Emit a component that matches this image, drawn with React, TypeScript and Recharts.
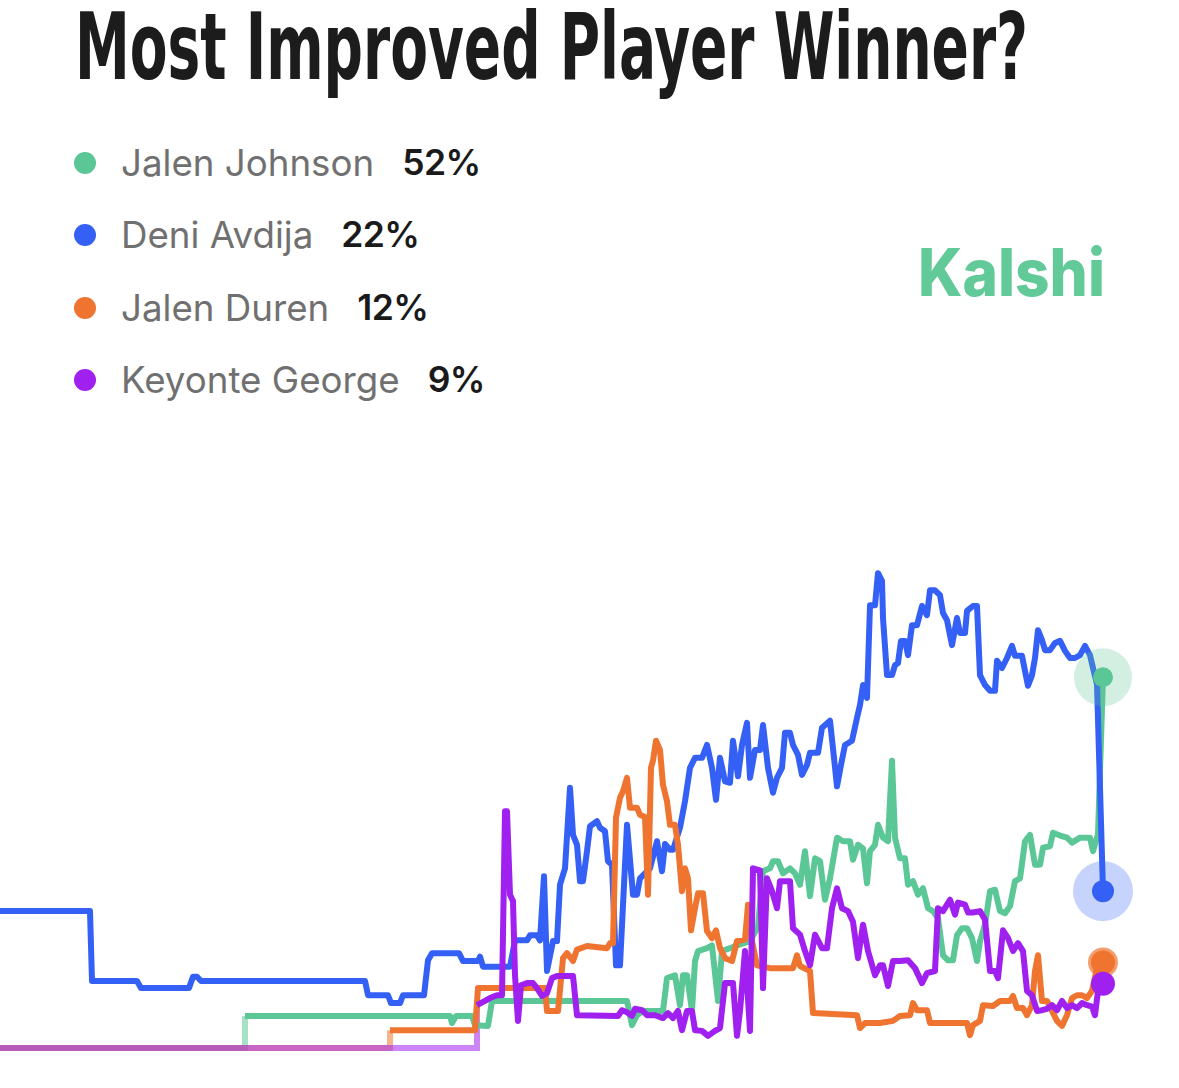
// Kalshi odds: Most Improved Player winner

import { LineChart, Line, XAxis, YAxis, ReferenceDot } from "recharts";

const players = ["Jalen Johnson", "Deni Avdija", "Jalen Duren", "Keyonte George"];
const odds = [52, 22, 12, 9];
const colors = ["#5cc796", "#3460f5", "#ef7430", "#a020f0"];

// [day, chance %]
const jalenJohnson: [number, number][] = [
  [49, 4.5], [90, 4.5], [90.4, 3.5], [91.2, 4.5], [94.4, 4.5], [95, 3.2], [97.6, 3.1], [98.4, 6.6],
  [125.4, 6.6], [126.4, 3.2], [127.4, 4.6], [128.6, 5.2], [132.6, 5.2], [133.4, 9.8], [135, 10.2],
  [136, 6.0], [136.6, 10.2], [137.4, 10.2], [138.4, 5.2], [139, 12.2], [139.6, 13.6], [141.4, 14.0],
  [142.4, 14.4], [143.6, 6.6], [144.4, 13.6], [146, 14.0], [147.4, 14.4], [150, 15.0], [151.6, 17],
  [152.6, 24.8], [154, 25.2], [154.6, 26.2], [155.6, 26.2], [156.6, 24.5], [158, 25.2], [159, 24.5],
  [160, 22.9], [161, 27.6], [162, 21.3], [163, 26.6], [164, 26.2], [165, 20.8], [166, 23.8],
  [167.4, 29.5], [168.6, 29.0], [170, 29.0], [170.6, 26.4], [171.6, 28.5], [172.6, 28.0],
  [173.4, 23.1], [174, 27.6], [175, 28.5], [175.6, 31.3], [176.6, 29.5], [177.6, 29.0], [178.4, 40.3],
  [179, 29.5], [180, 26.6], [181, 26.6], [181.6, 22.9], [182.6, 23.4], [183.6, 21.5], [184.6, 22.4],
  [185.6, 19.6], [186.6, 19.2], [187.6, 18.2], [188.6, 13.0], [189.6, 12.3], [190.6, 12.3],
  [191.4, 15.8], [192.4, 16.8], [193.4, 16.8], [194.4, 15.4], [195.4, 12.2], [196, 15.0], [197, 17.3],
  [198, 22.0], [199, 22.2], [200, 19.2], [201, 18.9], [202, 19.9], [203, 23.4], [204, 23.8], [205, 29.0],
  [206, 29.9], [207, 25.7], [208, 25.7], [208.6, 28.1], [210, 28.3], [210.6, 30.2], [212, 29.8],
  [213.4, 29.5], [214.4, 28.8], [216, 29.5], [218, 29.5], [218.6, 27.6], [219.6, 30], [220.6, 52],
];

const deniAvdija: [number, number][] = [
  [0, 19.2], [18, 19.2], [18.4, 9.4], [27.4, 9.4], [28.2, 8.4], [37.8, 8.4], [38.6, 10.0], [39.4, 10.0],
  [40.2, 9.4], [73, 9.4], [73.6, 7.4], [77.6, 7.4], [78.2, 6.3], [80, 6.3], [80.6, 7.4], [84.8, 7.4],
  [85.6, 12.3], [86.4, 13.3], [91.8, 13.3], [92.6, 12.2], [95.6, 12.2], [96, 12.8], [96.6, 11.4],
  [102, 11.4], [103, 15.1], [105.4, 15.1], [106, 15.8], [107.4, 15.8], [108, 15.1], [108.8, 24.1],
  [109.4, 10.8], [110.6, 15.0], [111.4, 15.0], [112, 22.9], [113, 25.2], [114, 36.5], [114.6, 29.9],
  [115.4, 28.5], [116, 23.4], [116.6, 23.4], [117.4, 27.6], [118, 31.1], [119.4, 31.8], [120, 30.9],
  [121, 30.4], [121.6, 26.2], [122.4, 25.7], [123.2, 11.6], [124, 11.6], [125.4, 31.3], [126.6, 21.5],
  [127.4, 21.5], [128, 23.8], [130, 25.2], [131.4, 29.0], [132.4, 24.8], [133, 28.6], [134, 27.8],
  [134.6, 27.8], [136, 30.9], [137, 34.6], [138, 39.3], [139, 40.7], [140.4, 40.7], [141.4, 42.5],
  [142.4, 39.3], [143.2, 34.8], [144, 40.7], [145, 37.4], [146, 37.2], [146.6, 43.1], [147.6, 38.1],
  [148.4, 42.5], [149.4, 45.6], [150, 37.9], [151, 41.8], [152, 41.8], [152.6, 45.3], [153.6, 39.3],
  [154.6, 35.8], [155.4, 37.9], [156.4, 39.3], [157, 44.2], [158, 44.2], [158.6, 42.5], [159.6, 41.1],
  [160.4, 38.3], [161.4, 39.7], [162, 41.4], [163.6, 41.4], [164.4, 44.9], [166, 45.9], [166.8, 40.7],
  [167.4, 36.7], [168.2, 39.7], [169, 42.5], [170.4, 43.1], [171.4, 46.3], [172, 48.1], [172.6, 50.9],
  [173.4, 49.1], [174, 62.1], [175, 62.1], [175.6, 66.6], [176.4, 65.5], [176.6, 60.3], [177.4, 52.3],
  [178.4, 52.3], [179, 53.7], [179.6, 54.0], [180.2, 57.1], [181, 57.1], [181.6, 55.1], [182.4, 59.3],
  [183.4, 59.3], [184.4, 62.0], [185.4, 60.7], [186, 64.2], [187, 64.2], [188, 63.5], [188.6, 61.0],
  [189.4, 60.0], [190.4, 56.5], [191.4, 60.3], [192, 58.2], [193, 58.2], [193.4, 61.3], [194.6, 62.0],
  [195.4, 62.0], [196, 52.3], [197, 50.9], [198, 50.1], [199, 50.1], [199.4, 54.3], [200.4, 53.3],
  [201.4, 54.7], [202.4, 56.4], [203, 55.0], [204.4, 55.0], [205, 52.9], [205.6, 50.8], [206.4, 52.3],
  [207, 54.7], [207.6, 58.6], [208.4, 57.2], [209, 55.8], [210, 55.8], [211, 56.8], [212, 57.1],
  [213, 55.7], [214, 54.7], [215, 54.7], [216, 55.1], [217, 56.4], [218, 55.1], [218.6, 53.3],
  [219.4, 51.0], [220.6, 22],
];

const jalenDuren: [number, number][] = [
  [78, 2.5], [95, 2.5], [95.6, 8.4], [109, 8.4], [109.4, 5.2], [111.6, 5.2], [112.6, 12.6], [113.4, 13.3],
  [114.6, 12.2], [115.4, 13.8], [117.4, 14.3], [121.4, 14.0], [122, 14.7], [122.6, 14.7], [123.2, 32.3],
  [124, 35.1], [124.6, 36.0], [125.4, 37.9], [126, 33.7], [127.4, 33.7], [128, 32.7], [129, 32.4],
  [129.6, 21.5], [130.2, 39.3], [130.6, 40.3], [131.2, 43.1], [132, 41.8], [132.6, 36.9], [133.4, 34.6],
  [134, 31.3], [135, 31.3], [135.6, 28.5], [136.4, 22.0], [137, 25.2], [137.6, 23.8], [138.2, 16.5],
  [139, 19.6], [139.6, 21.7], [140.6, 21.7], [141.4, 16.4], [142.4, 15.4], [143.2, 16.5], [144, 14.0],
  [145, 12.6], [146.4, 12.2], [147.4, 15.0], [149, 15.2], [149.6, 20.1], [150.4, 15], [151.4, 11.6],
  [154, 11.2], [158.6, 11.2], [159.4, 13.0], [160, 11.5], [162, 10.8], [162.6, 4.9], [171.4, 4.6],
  [172, 2.8], [173, 3.5], [176, 3.5], [178.6, 3.8], [180, 4.5], [182, 4.6], [182.6, 6.3], [183.4, 5.3],
  [185.4, 5.3], [186, 3.5], [193.4, 3.5], [194, 1.8], [194.6, 3.2], [196, 3.8], [196.6, 6.0], [198.6, 5.9],
  [200, 6.6], [202, 6.6], [202.6, 7.3], [203.4, 5.6], [204.6, 5.6], [205.4, 4.6], [206.4, 6.0],
  [207, 10.8], [207.6, 13.0], [208.4, 6.6], [209.4, 6.6], [210.4, 5.2], [211.4, 3.8], [212.4, 3.1],
  [213.4, 4.6], [214.4, 7.0], [215.4, 7.4], [216.4, 7.4], [217.4, 7.0], [218.4, 8.0], [219.4, 11.2],
  [220.6, 12],
];

const keyonteGeorge: [number, number][] = [
  [95.4, 6.0], [97, 6.6], [98, 7.0], [99.4, 7.4], [100.4, 7.4], [101, 33.2], [101.4, 33.2], [102, 21.5],
  [102.6, 20.6], [103, 10.2], [103.6, 3.8], [104.2, 8.8], [105.4, 9.1], [106.6, 9.1], [107.4, 8.4],
  [108.4, 7.3], [109.4, 7.7], [110.4, 9.8], [111.4, 10.1], [114.6, 10.1], [115.4, 4.6], [123.6, 4.5],
  [124.4, 5.3], [125.4, 5.0], [126.4, 4.5], [127, 5.5], [128.4, 5.3], [129.4, 4.6], [131, 4.6],
  [132.6, 4.2], [133.6, 4.9], [134.6, 4.2], [135.6, 5.2], [136.4, 2.5], [137.4, 5.2], [138.4, 5.2],
  [139, 2.5], [140.4, 2.4], [141.6, 1.7], [143, 2.4], [144, 2.8], [145, 9.1], [146.6, 9.1], [147.4, 1.7],
  [148, 5.2], [149, 13.6], [150, 2.4], [150.6, 25.2], [152, 24.9], [152.6, 8.4], [153.4, 23.8],
  [154.4, 22.0], [155.4, 19.6], [156, 23.4], [158, 23.4], [158.6, 16.8], [160, 15.9], [161, 13.6],
  [162, 11.6], [163, 15.9], [164.4, 14.0], [165.4, 14.0], [166.4, 19.6], [167.4, 22.4], [168.4, 19.6],
  [169.6, 19.2], [170.6, 17.7], [171.6, 12.6], [172.6, 17.3], [173.6, 13.6], [175, 10.2], [176, 11.6],
  [176.6, 11.6], [177.6, 8.7], [178.6, 12.2], [180, 12.2], [181.6, 12.3], [183, 11.2], [184.4, 9.1],
  [185.4, 10.5], [187, 10.8], [187.6, 19.6], [188.6, 19.2], [190, 20.8], [191, 18.7], [191.6, 20.4],
  [193, 20.1], [193.6, 19.0], [194.6, 19.0], [196, 19.2], [197, 18.0], [198, 10.8], [199, 10.8],
  [199.6, 9.8], [200.6, 16.5], [201.6, 15.4], [202.6, 13.6], [203.6, 14.7], [204.6, 13.6], [205.4, 8.0],
  [206.4, 7.4], [207.4, 5.2], [208.4, 5.3], [209.4, 5.5], [210.4, 6.0], [211.4, 5.3], [212.4, 6.6],
  [213.4, 5.6], [214.4, 6.0], [215.4, 5.6], [216.4, 6.3], [217.4, 6.0], [218.4, 5.8], [219, 4.6],
  [219.6, 8.0], [220.6, 9],
];

// faded flat lines before a market opened
const johnsonPre: [number, number][] = [[0, 0], [49, 0], [49, 4.5]];
const durenPre: [number, number][] = [[0, 0], [78, 0], [78, 2.5]];
const georgePre: [number, number][] = [[0, 0], [95.4, 0], [95.4, 6]];

const lastDay = 220.6;

const rows = (pts: [number, number][]) => pts.map(([t, v]) => ({ t, v }));

const series = [jalenJohnson, deniAvdija, jalenDuren, keyonteGeorge];
const preSeries = [johnsonPre, null, durenPre, georgePre];

export default function App() {
  return (
    <div
      style={{
        position: "absolute",
        left: 0,
        top: 0,
        width: 1179,
        height: 1088,
        background: "#fff",
        overflow: "hidden",
      }}
    >
      <svg
        width={1179}
        height={1088}
        style={{ position: "absolute", left: 0, top: 0 }}
      >
        {/* condensed display title: small font stretched tall */}
        <g transform="scale(1, 1.5)">
          <text
            x={75}
            y={52.7}
            fontSize={62}
            fontWeight={700}
            fill="#1c1c1c"
            textLength={953}
            lengthAdjust="spacingAndGlyphs"
            fontFamily='"Liberation Sans Narrow", "DejaVu Sans Condensed", "Liberation Sans", sans-serif'
          >
            Most Improved Player Winner?
          </text>
        </g>
        <text
          x={918}
          y={296}
          fontSize={66}
          fontWeight={800}
          fill="#62c998"
          fontFamily="Inter, 'Liberation Sans', sans-serif"
          textLength={187}
          lengthAdjust="spacingAndGlyphs"
        >
          Kalshi
        </text>
      </svg>

      {players.map((p, i) => (
        <div
          key={p}
          style={{
            position: "absolute",
            left: 74,
            top: 163 + i * 72.3 - 19,
            height: 38,
            display: "flex",
            alignItems: "center",
            fontFamily: "Inter, 'Noto Sans', sans-serif",
            fontSize: 36.7,
            lineHeight: "38px",
            whiteSpace: "nowrap",
          }}
        >
          <span
            style={{
              width: 22,
              height: 22,
              borderRadius: 11,
              background: colors[i],
              marginRight: 25,
              flex: "none",
            }}
          />
          <span style={{ color: "#707070" }}>{p}</span>
          <span
            style={{
              color: "#1a1a1a",
              fontWeight: 600,
              fontSize: 35.5,
              letterSpacing: -0.6,
              marginLeft: 28,
            }}
          >
            {odds[i]}%
          </span>
        </div>
      ))}

      <div style={{ position: "absolute", left: 0, top: 0 }}>
        <LineChart
          width={1179}
          height={1088}
          margin={{ top: 335, right: 74, bottom: 40, left: 0 }}
        >
          <XAxis type="number" dataKey="t" domain={[0, 221]} hide />
          <YAxis type="number" domain={[0, 100]} hide />
          {preSeries.map((pre, i) =>
            pre ? (
              <Line
                key={"pre" + i}
                data={rows(pre)}
                dataKey="v"
                stroke={colors[i]}
                strokeOpacity={0.55}
                strokeWidth={6}
                dot={false}
                activeDot={false}
                isAnimationActive={false}
              />
            ) : null
          )}
          {series.map((s, i) => (
            <Line
              key={players[i]}
              data={rows(s)}
              dataKey="v"
              stroke={colors[i]}
              strokeWidth={6}
              strokeLinejoin="round"
              dot={false}
              activeDot={false}
              isAnimationActive={false}
            />
          ))}
          <ReferenceDot x={lastDay} y={odds[0]} r={29} fill={colors[0]} fillOpacity={0.28} stroke="none" />
          <ReferenceDot x={lastDay} y={odds[0]} r={10} fill={colors[0]} stroke="none" />
          <ReferenceDot x={lastDay} y={odds[1]} r={30} fill={colors[1]} fillOpacity={0.28} stroke="none" />
          <ReferenceDot x={lastDay} y={odds[1]} r={11} fill={colors[1]} stroke="none" />
          <ReferenceDot x={lastDay} y={odds[2]} r={15} fill={colors[2]} fillOpacity={0.7} stroke="none" />
          <ReferenceDot x={lastDay} y={odds[2]} r={12} fill={colors[2]} stroke="none" />
          <ReferenceDot x={lastDay} y={odds[3]} r={12} fill={colors[3]} stroke="none" />
        </LineChart>
      </div>
    </div>
  );
}
